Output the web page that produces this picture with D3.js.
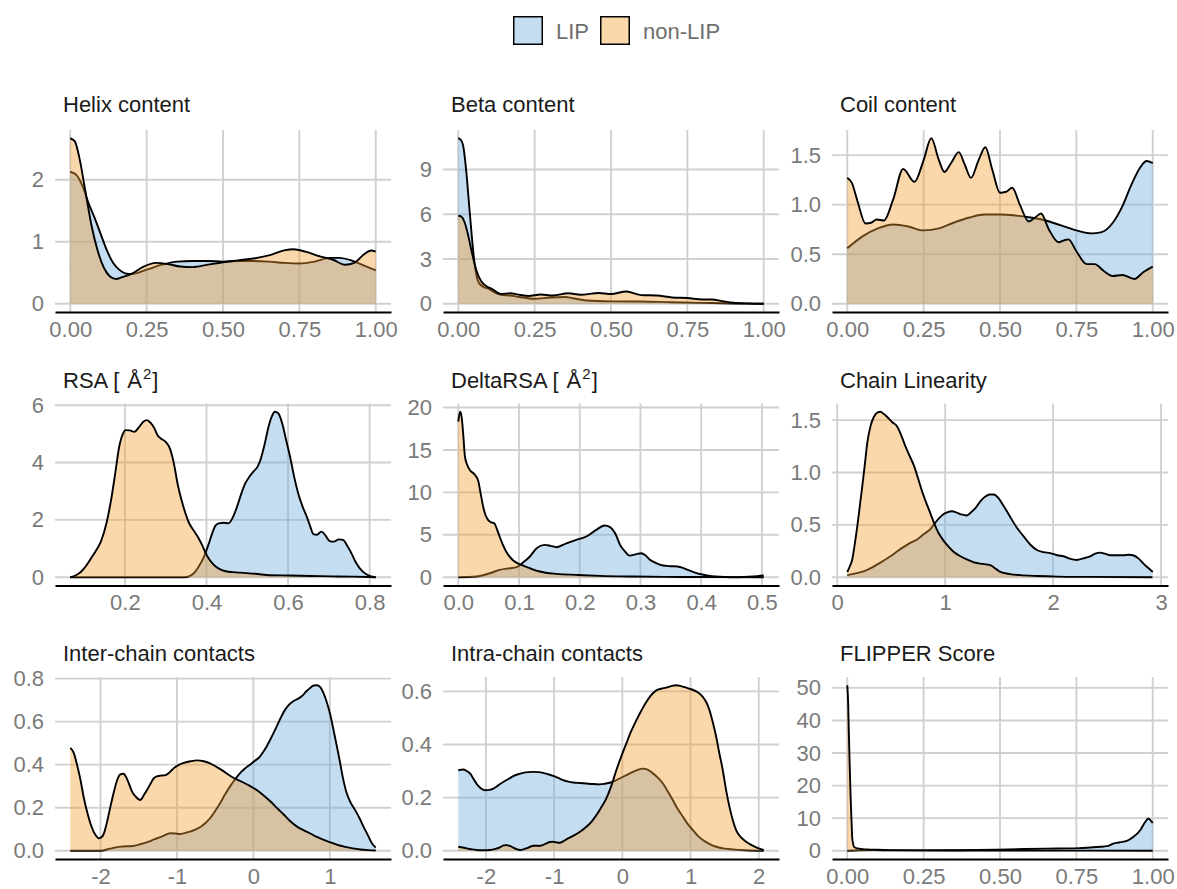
<!DOCTYPE html>
<html><head><meta charset="utf-8">
<script src="https://cdn.jsdelivr.net/npm/d3@7/dist/d3.min.js"></script>
<style>
body{margin:0;background:#fff}
text{font-family:"Liberation Sans",Arial,Helvetica,sans-serif}
</style>
</head><body>
<svg id="chart" width="1177" height="889"></svg>
<script>
// ---------- data ----------
const groups = ["LIP", "non-LIP"];
const groupColors = ["#6eaadc", "#f29d2f"];
const titles = ["Helix content","Beta content","Coil content","RSA","DeltaRSA","Chain Linearity","Inter-chain contacts","Intra-chain contacts","FLIPPER Score"];

const helixLIP = [[0,2.13],[0.02,2.08],[0.04,1.9],[0.06,1.62],[0.08,1.38],[0.10,1.12],[0.12,0.86],[0.14,0.66],[0.16,0.55],[0.18,0.49],[0.20,0.48],[0.25,0.55],[0.30,0.63],[0.35,0.68],[0.40,0.69],[0.45,0.69],[0.50,0.68],[0.55,0.69],[0.60,0.69],[0.65,0.68],[0.70,0.66],[0.75,0.65],[0.80,0.68],[0.85,0.74],[0.88,0.74],[0.92,0.70],[0.96,0.62],[1.0,0.54]];
const helixNonLIP = [[0,2.67],[0.015,2.62],[0.03,2.35],[0.05,1.8],[0.07,1.25],[0.09,0.85],[0.11,0.58],[0.13,0.44],[0.15,0.40],[0.17,0.43],[0.20,0.48],[0.24,0.6],[0.28,0.66],[0.32,0.64],[0.36,0.6],[0.40,0.59],[0.45,0.63],[0.50,0.67],[0.55,0.70],[0.60,0.73],[0.65,0.78],[0.70,0.86],[0.73,0.88],[0.77,0.84],[0.82,0.76],[0.86,0.71],[0.90,0.63],[0.93,0.66],[0.96,0.79],[0.985,0.86],[1.0,0.84]];

const betaLIP = [[0,11.1],[0.008,11.0],[0.016,10.6],[0.027,8.7],[0.036,6.5],[0.044,4.6],[0.054,2.6],[0.065,1.5],[0.08,1.15],[0.10,1.0],[0.12,0.75],[0.14,0.6],[0.17,0.55],[0.2,0.45],[0.25,0.33],[0.3,0.42],[0.35,0.45],[0.38,0.35],[0.42,0.22],[0.5,0.16],[0.6,0.15],[0.7,0.1],[0.8,0.06],[0.9,0.02],[1.0,0.0]];
const betaNonLIP = [[0,5.9],[0.01,5.85],[0.02,5.5],[0.03,4.8],[0.045,3.4],[0.06,2.2],[0.075,1.5],[0.09,1.2],[0.11,1.0],[0.14,0.65],[0.17,0.7],[0.2,0.6],[0.23,0.52],[0.27,0.62],[0.31,0.55],[0.36,0.7],[0.4,0.6],[0.46,0.72],[0.5,0.65],[0.55,0.82],[0.6,0.58],[0.65,0.55],[0.7,0.42],[0.75,0.38],[0.8,0.28],[0.83,0.28],[0.87,0.15],[0.9,0.07],[0.95,0.02],[1.0,0.0]];

const coilLIP = [[0,0.56],[0.05,0.68],[0.1,0.76],[0.15,0.80],[0.2,0.78],[0.25,0.74],[0.3,0.76],[0.35,0.82],[0.4,0.87],[0.45,0.90],[0.5,0.90],[0.55,0.89],[0.6,0.87],[0.65,0.84],[0.7,0.79],[0.75,0.74],[0.8,0.71],[0.83,0.72],[0.87,0.82],[0.9,0.98],[0.93,1.2],[0.96,1.38],[0.98,1.44],[1.0,1.42]];
const coilNonLIP = [[0,1.27],[0.015,1.22],[0.033,1.04],[0.06,0.81],[0.08,0.82],[0.096,0.85],[0.12,0.84],[0.15,1.05],[0.183,1.36],[0.22,1.23],[0.25,1.45],[0.275,1.67],[0.3,1.45],[0.318,1.33],[0.34,1.42],[0.365,1.53],[0.385,1.4],[0.405,1.27],[0.43,1.45],[0.452,1.58],[0.475,1.35],[0.50,1.12],[0.52,1.13],[0.54,1.17],[0.565,1.0],[0.594,0.83],[0.615,0.87],[0.634,0.91],[0.66,0.75],[0.692,0.62],[0.71,0.64],[0.724,0.65],[0.75,0.53],[0.784,0.40],[0.81,0.40],[0.84,0.33],[0.87,0.28],[0.9,0.29],[0.94,0.25],[0.97,0.32],[1.0,0.375]];

const rsaLIP = [[0.066,0],[0.3,0],[0.345,0.0],[0.36,0.05],[0.369,0.14],[0.38,0.35],[0.394,0.72],[0.404,1.1],[0.414,1.53],[0.422,1.8],[0.43,1.88],[0.442,1.9],[0.454,1.88],[0.465,2.1],[0.475,2.46],[0.485,2.9],[0.495,3.27],[0.505,3.5],[0.515,3.68],[0.525,3.85],[0.532,4.08],[0.542,4.6],[0.552,5.24],[0.56,5.6],[0.568,5.77],[0.576,5.72],[0.585,5.4],[0.595,4.8],[0.605,4.2],[0.615,3.5],[0.625,2.92],[0.636,2.45],[0.646,2.11],[0.655,1.75],[0.662,1.5],[0.67,1.48],[0.682,1.59],[0.692,1.45],[0.702,1.26],[0.712,1.24],[0.725,1.32],[0.735,1.3],[0.745,1.1],[0.755,0.85],[0.765,0.55],[0.776,0.31],[0.79,0.12],[0.8,0.05],[0.815,0]];
const rsaNonLIP = [[0.066,0],[0.08,0.07],[0.093,0.2],[0.105,0.4],[0.117,0.66],[0.13,0.95],[0.141,1.24],[0.155,1.9],[0.166,2.69],[0.176,3.6],[0.186,4.55],[0.195,5.0],[0.202,5.13],[0.212,5.12],[0.223,5.07],[0.235,5.24],[0.245,5.42],[0.254,5.48],[0.263,5.38],[0.272,5.2],[0.28,4.95],[0.288,4.84],[0.3,4.72],[0.31,4.5],[0.32,3.97],[0.33,3.2],[0.341,2.58],[0.357,1.9],[0.37,1.6],[0.38,1.38],[0.39,1.1],[0.398,0.84],[0.408,0.6],[0.418,0.43],[0.43,0.3],[0.45,0.2],[0.483,0.16],[0.52,0.12],[0.548,0.08],[0.6,0.06],[0.63,0.05],[0.68,0.04],[0.71,0.03],[0.76,0.02],[0.815,0]];

const deltaLIP = [[0,0],[0.03,0.08],[0.052,0.47],[0.068,0.86],[0.085,1.06],[0.096,1.18],[0.104,1.57],[0.111,2.0],[0.118,2.44],[0.129,3.42],[0.142,3.81],[0.152,3.7],[0.162,3.54],[0.178,4.0],[0.194,4.4],[0.211,4.8],[0.227,5.58],[0.241,6.09],[0.25,5.9],[0.258,5.2],[0.268,3.62],[0.275,3.0],[0.282,2.55],[0.292,2.7],[0.301,2.83],[0.308,2.6],[0.315,2.1],[0.325,1.7],[0.337,1.38],[0.35,1.3],[0.361,1.26],[0.37,1.1],[0.378,0.86],[0.39,0.55],[0.4,0.35],[0.412,0.18],[0.424,0.08],[0.44,0.02],[0.452,0.0],[0.47,0.03],[0.485,0.08],[0.503,0.2]];
const deltaNonLIP = [[0,18.35],[0.003,19.5],[0.0055,18.9],[0.008,17],[0.011,14.2],[0.015,13.2],[0.019,12.65],[0.027,12.1],[0.033,11.3],[0.037,9.8],[0.041,8.3],[0.045,7.3],[0.049,6.76],[0.055,6.45],[0.059,6.37],[0.063,5.8],[0.068,4.8],[0.073,3.9],[0.079,3.0],[0.09,2.0],[0.104,1.45],[0.118,1.06],[0.134,0.67],[0.162,0.39],[0.194,0.28],[0.233,0.16],[0.29,0.08],[0.34,0.04],[0.4,0.02],[0.503,0]];

const chainLIP = [[0.093,0.02],[0.278,0.07],[0.4,0.14],[0.493,0.2],[0.56,0.25],[0.617,0.29],[0.68,0.33],[0.74,0.36],[0.8,0.41],[0.863,0.46],[0.9,0.51],[0.94,0.56],[0.98,0.6],[1.018,0.62],[1.064,0.63],[1.1,0.62],[1.15,0.6],[1.2,0.59],[1.24,0.62],[1.28,0.66],[1.33,0.73],[1.372,0.77],[1.41,0.79],[1.45,0.79],[1.49,0.76],[1.53,0.7],[1.56,0.65],[1.6,0.58],[1.66,0.48],[1.727,0.39],[1.79,0.31],[1.85,0.26],[1.91,0.24],[1.974,0.23],[2.04,0.21],[2.097,0.2],[2.16,0.175],[2.22,0.165],[2.28,0.18],[2.343,0.2],[2.39,0.225],[2.436,0.235],[2.48,0.225],[2.53,0.21],[2.59,0.21],[2.65,0.21],[2.7,0.215],[2.74,0.21],[2.79,0.18],[2.837,0.13],[2.88,0.09],[2.923,0.05]];
const chainNonLIP = [[0.093,0.05],[0.115,0.1],[0.139,0.17],[0.16,0.3],[0.185,0.48],[0.208,0.67],[0.231,0.86],[0.255,1.07],[0.278,1.28],[0.31,1.45],[0.339,1.53],[0.37,1.57],[0.40,1.58],[0.43,1.56],[0.463,1.53],[0.51,1.48],[0.555,1.44],[0.595,1.35],[0.632,1.25],[0.67,1.16],[0.709,1.07],[0.75,0.94],[0.786,0.82],[0.825,0.71],[0.863,0.61],[0.9,0.51],[0.94,0.42],[0.985,0.35],[1.033,0.29],[1.08,0.24],[1.125,0.21],[1.2,0.17],[1.26,0.145],[1.326,0.13],[1.418,0.115],[1.47,0.08],[1.51,0.05],[1.6,0.03],[1.696,0.02],[1.85,0.012],[2.04,0.006],[2.34,0.003],[2.92,0]];

const interLIP = [[-2.395,0],[-2.2,0],[-2.0,0.0],[-1.87,0.01],[-1.74,0.019],[-1.57,0.022],[-1.5,0.028],[-1.44,0.034],[-1.35,0.045],[-1.26,0.058],[-1.17,0.07],[-1.09,0.081],[-1.02,0.08],[-0.96,0.078],[-0.9,0.082],[-0.83,0.089],[-0.76,0.098],[-0.70,0.109],[-0.63,0.128],[-0.567,0.151],[-0.5,0.185],[-0.436,0.221],[-0.37,0.262],[-0.305,0.299],[-0.24,0.332],[-0.174,0.361],[-0.11,0.382],[-0.044,0.4],[0.02,0.418],[0.088,0.439],[0.13,0.46],[0.175,0.486],[0.24,0.53],[0.307,0.579],[0.36,0.62],[0.417,0.657],[0.47,0.68],[0.526,0.696],[0.58,0.706],[0.636,0.719],[0.69,0.74],[0.746,0.758],[0.79,0.768],[0.833,0.769],[0.88,0.758],[0.92,0.73],[0.96,0.69],[1.0,0.64],[1.06,0.54],[1.126,0.424],[1.17,0.34],[1.22,0.268],[1.27,0.225],[1.33,0.19],[1.39,0.15],[1.44,0.112],[1.5,0.07],[1.55,0.035],[1.6,0.015]];
const interNonLIP = [[-2.395,0.478],[-2.35,0.455],[-2.30,0.39],[-2.262,0.33],[-2.22,0.25],[-2.174,0.18],[-2.12,0.115],[-2.065,0.073],[-2.02,0.058],[-1.98,0.065],[-1.956,0.08],[-1.91,0.14],[-1.87,0.205],[-1.82,0.28],[-1.78,0.33],[-1.74,0.355],[-1.70,0.358],[-1.66,0.34],[-1.63,0.314],[-1.58,0.27],[-1.54,0.252],[-1.48,0.236],[-1.43,0.26],[-1.39,0.283],[-1.34,0.315],[-1.30,0.338],[-1.25,0.347],[-1.215,0.349],[-1.17,0.35],[-1.13,0.355],[-1.08,0.37],[-1.04,0.384],[-0.98,0.398],[-0.91,0.408],[-0.82,0.416],[-0.735,0.42],[-0.65,0.416],[-0.56,0.405],[-0.47,0.387],[-0.387,0.369],[-0.32,0.352],[-0.256,0.338],[-0.19,0.327],[-0.125,0.316],[-0.04,0.3],[0.04,0.283],[0.13,0.258],[0.224,0.229],[0.31,0.198],[0.4,0.167],[0.48,0.138],[0.57,0.112],[0.66,0.095],[0.745,0.08],[0.83,0.064],[0.92,0.05],[1.0,0.04],[1.1,0.027],[1.2,0.018],[1.3,0.011],[1.4,0.006],[1.5,0.003],[1.6,0.001]];

const intraLIP = [[-2.405,0.303],[-2.33,0.306],[-2.28,0.3],[-2.23,0.29],[-2.18,0.27],[-2.14,0.253],[-2.08,0.236],[-2.015,0.228],[-1.95,0.229],[-1.89,0.234],[-1.82,0.246],[-1.746,0.259],[-1.67,0.27],[-1.6,0.281],[-1.53,0.288],[-1.454,0.293],[-1.38,0.296],[-1.307,0.297],[-1.23,0.296],[-1.16,0.293],[-1.09,0.288],[-1.015,0.282],[-0.94,0.274],[-0.868,0.266],[-0.79,0.26],[-0.72,0.257],[-0.62,0.255],[-0.527,0.253],[-0.43,0.251],[-0.332,0.25],[-0.26,0.252],[-0.185,0.256],[-0.11,0.263],[-0.04,0.272],[0.06,0.285],[0.156,0.297],[0.23,0.305],[0.30,0.309],[0.36,0.306],[0.43,0.295],[0.52,0.275],[0.595,0.253],[0.67,0.222],[0.741,0.19],[0.81,0.158],[0.888,0.128],[0.96,0.1],[1.034,0.078],[1.1,0.058],[1.18,0.04],[1.28,0.025],[1.376,0.015],[1.5,0.008],[1.62,0.005],[1.8,0.002],[2.073,0]];
const intraNonLIP = [[-2.405,0.015],[-2.34,0.012],[-2.28,0.009],[-2.2,0.005],[-2.14,0.003],[-2.04,0.002],[-1.94,0.003],[-1.86,0.007],[-1.795,0.013],[-1.74,0.02],[-1.7,0.021],[-1.65,0.018],[-1.6,0.012],[-1.55,0.006],[-1.5,0.003],[-1.45,0.005],[-1.405,0.009],[-1.35,0.015],[-1.307,0.019],[-1.25,0.019],[-1.21,0.018],[-1.16,0.022],[-1.11,0.028],[-1.06,0.033],[-1.015,0.034],[-0.96,0.031],[-0.917,0.03],[-0.87,0.035],[-0.82,0.043],[-0.75,0.052],[-0.673,0.063],[-0.6,0.075],[-0.527,0.09],[-0.45,0.11],[-0.38,0.134],[-0.31,0.163],[-0.234,0.197],[-0.16,0.245],[-0.088,0.303],[-0.015,0.355],[0.059,0.404],[0.13,0.45],[0.205,0.491],[0.28,0.528],[0.351,0.56],[0.42,0.585],[0.498,0.604],[0.57,0.61],[0.644,0.614],[0.72,0.62],[0.79,0.623],[0.86,0.62],[0.937,0.614],[1.01,0.608],[1.083,0.6],[1.13,0.592],[1.18,0.579],[1.23,0.56],[1.278,0.529],[1.33,0.48],[1.376,0.429],[1.42,0.37],[1.473,0.303],[1.52,0.23],[1.571,0.165],[1.62,0.115],[1.668,0.078],[1.74,0.05],[1.815,0.034],[1.89,0.022],[1.96,0.013],[2.02,0.007],[2.073,0.003]];

const flipperLIP = [[0,0],[0.04,0.15],[0.087,0.2],[0.14,0.12],[0.25,0.1],[0.36,0.15],[0.49,0.35],[0.58,0.55],[0.686,0.7],[0.76,0.8],[0.795,1.0],[0.828,1.2],[0.85,1.4],[0.871,2.2],[0.893,2.6],[0.915,3.0],[0.937,4.3],[0.959,6.3],[0.975,8.8],[0.986,9.9],[0.993,9.3],[1.0,8.5]];
const flipperNonLIP = [[0,50.8],[0.003,45],[0.005,36.8],[0.008,26],[0.011,16.5],[0.014,9],[0.016,4.3],[0.019,2.2],[0.022,1.2],[0.033,0.7],[0.05,0.5],[0.065,0.4],[0.1,0.28],[0.14,0.2],[0.25,0.1],[0.4,0.06],[0.6,0.04],[0.8,0.02],[1.0,0.0]];

// ---------- ticks ----------
const unitTicks = [0, 0.25, 0.5, 0.75, 1];
const unitTickLabels = ["0.00","0.25","0.50","0.75","1.00"];
const helixYTicks = [0,1,2];           const helixYLabels = ["0","1","2"];
const betaYTicks = [0,3,6,9];          const betaYLabels = ["0","3","6","9"];
const coilYTicks = [0,0.5,1,1.5];      const coilYLabels = ["0.0","0.5","1.0","1.5"];
const rsaXTicks = [0.2,0.4,0.6,0.8];   const rsaXLabels = ["0.2","0.4","0.6","0.8"];
const rsaYTicks = [0,2,4,6];           const rsaYLabels = ["0","2","4","6"];
const deltaXTicks = [0,0.1,0.2,0.3,0.4,0.5]; const deltaXLabels = ["0.0","0.1","0.2","0.3","0.4","0.5"];
const deltaYTicks = [0,5,10,15,20];    const deltaYLabels = ["0","5","10","15","20"];
const chainXTicks = [0,1,2,3];         const chainXLabels = ["0","1","2","3"];
const chainYTicks = [0,0.5,1,1.5];     const chainYLabels = ["0.0","0.5","1.0","1.5"];
const interXTicks = [-2,-1,0,1];       const interXLabels = ["-2","-1","0","1"];
const interYTicks = [0,0.2,0.4,0.6,0.8]; const interYLabels = ["0.0","0.2","0.4","0.6","0.8"];
const intraXTicks = [-2,-1,0,1,2];     const intraXLabels = ["-2","-1","0","1","2"];
const intraYTicks = [0,0.2,0.4,0.6];   const intraYLabels = ["0.0","0.2","0.4","0.6"];
const flipperYTicks = [0,10,20,30,40,50]; const flipperYLabels = ["0","10","20","30","40","50"];

const panels = [
  {title: titles[0], series: [helixLIP, helixNonLIP], xt: unitTicks, xl: unitTickLabels, yt: helixYTicks, yl: helixYLabels},
  {title: titles[1], series: [betaLIP, betaNonLIP], xt: unitTicks, xl: unitTickLabels, yt: betaYTicks, yl: betaYLabels},
  {title: titles[2], series: [coilLIP, coilNonLIP], xt: unitTicks, xl: unitTickLabels, yt: coilYTicks, yl: coilYLabels},
  {title: titles[3], sup: true, series: [rsaLIP, rsaNonLIP], xt: rsaXTicks, xl: rsaXLabels, yt: rsaYTicks, yl: rsaYLabels},
  {title: titles[4], sup: true, series: [deltaLIP, deltaNonLIP], xt: deltaXTicks, xl: deltaXLabels, yt: deltaYTicks, yl: deltaYLabels},
  {title: titles[5], series: [chainLIP, chainNonLIP], xt: chainXTicks, xl: chainXLabels, yt: chainYTicks, yl: chainYLabels},
  {title: titles[6], series: [interLIP, interNonLIP], xt: interXTicks, xl: interXLabels, yt: interYTicks, yl: interYLabels},
  {title: titles[7], series: [intraLIP, intraNonLIP], xt: intraXTicks, xl: intraXLabels, yt: intraYTicks, yl: intraYLabels},
  {title: titles[8], series: [flipperLIP, flipperNonLIP], xt: unitTicks, xl: unitTickLabels, yt: flipperYTicks, yl: flipperYLabels}
];

// ---------- layout ----------
const colLeft = [55, 443, 832];
const rowTop = [130, 403.5, 677];
const titleBase = [112, 388, 661];
const PW = 336, PH = 182;
const FILL_OPACITY = 0.4;
const tickFont = 22, titleFont = 22;

const svg = d3.select("#chart");
svg.append("rect").attr("width",1177).attr("height",889).attr("fill","#fff");

panels.forEach((p, i) => {
  const c = i % 3, r = Math.floor(i / 3);
  const L = colLeft[c], T = rowTop[r];
  const all = p.series[0].concat(p.series[1]);
  const xe = d3.extent(all, d => d[0]);
  const xpad = (xe[1] - xe[0]) * 0.05;
  const ymax = d3.max(all, d => d[1]);
  const x = d3.scaleLinear().domain([xe[0] - xpad, xe[1] + xpad]).range([L, L + PW]);
  const y = d3.scaleLinear().domain([-0.05 * ymax, 1.05 * ymax]).range([T + PH, T]);
  const g = svg.append("g");

  // grid
  g.selectAll(".vg").data(p.xt).enter().append("line")
    .attr("x1", d => x(d)).attr("x2", d => x(d)).attr("y1", T).attr("y2", T + PH)
    .attr("stroke", "#d0d0d0").attr("stroke-width", 1.9);
  g.selectAll(".hg").data(p.yt).enter().append("line")
    .attr("x1", L).attr("x2", L + PW).attr("y1", d => y(d)).attr("y2", d => y(d))
    .attr("stroke", "#d0d0d0").attr("stroke-width", 1.9);

  // densities
  const area = d3.area().x(d => x(d[0])).y0(y(0)).y1(d => y(Math.max(0, d[1]))).curve(d3.curveMonotoneX);
  const line = d3.line().x(d => x(d[0])).y(d => y(Math.max(0, d[1]))).curve(d3.curveMonotoneX);
  p.series.forEach((s, k) => {
    g.append("path").attr("d", area(s)).attr("fill", groupColors[k]).attr("fill-opacity", FILL_OPACITY);
    g.append("path").attr("d", line(s)).attr("fill", "none").attr("stroke", "#000").attr("stroke-width", 1.9).attr("stroke-linejoin","round");
  });

  // x axis
  const xa = g.append("g").attr("transform", `translate(0,${T + PH})`)
    .call(d3.axisBottom(x).tickValues(p.xt).tickFormat((d, j) => p.xl[j]).tickSize(0).tickSizeOuter(0).tickPadding(9));
  xa.select(".domain").attr("stroke", "#000").attr("stroke-width", 2.2);
  xa.selectAll("text").attr("fill", "#7a7a7a").style("font-size", tickFont + "px");

  // y axis
  const ya = g.append("g").attr("transform", `translate(${L},0)`)
    .call(d3.axisLeft(y).tickValues(p.yt).tickFormat((d, j) => p.yl[j]).tickSize(0).tickPadding(11));
  ya.select(".domain").remove();
  ya.selectAll("text").attr("fill", "#7a7a7a").style("font-size", tickFont + "px");

  // title
  const t = g.append("text").attr("x", L + 8).attr("y", titleBase[r]).attr("fill", "#1a1a1a").style("font-size", titleFont + "px");
  if (p.sup) {
    t.append("tspan").text(p.title + " [");
    t.append("tspan").text("Å").attr("dx", 8);
    t.append("tspan").text("2").attr("dy", -9).attr("dx", 1).style("font-size", "15px");
    t.append("tspan").text("]").attr("dy", 9).attr("dx", 1);
  } else {
    t.text(p.title);
  }
});

// legend
const legendX = [513, 600];
const lg = svg.append("g");
groups.forEach((name, k) => {
  lg.append("rect").attr("x", legendX[k] + 0.75).attr("y", 16.75).attr("width", 28.5).attr("height", 27.5)
    .attr("fill", "#fff").attr("stroke", "none");
  lg.append("rect").attr("x", legendX[k] + 0.75).attr("y", 16.75).attr("width", 28.5).attr("height", 27.5)
    .attr("fill", groupColors[k]).attr("fill-opacity", FILL_OPACITY).attr("stroke", "#000").attr("stroke-width", 1.5);
  lg.append("text").attr("x", legendX[k] + 43).attr("y", 38.5).text(name)
    .attr("fill", "#6e6e6e").style("font-size", "22px");
});
</script>
</body></html>
